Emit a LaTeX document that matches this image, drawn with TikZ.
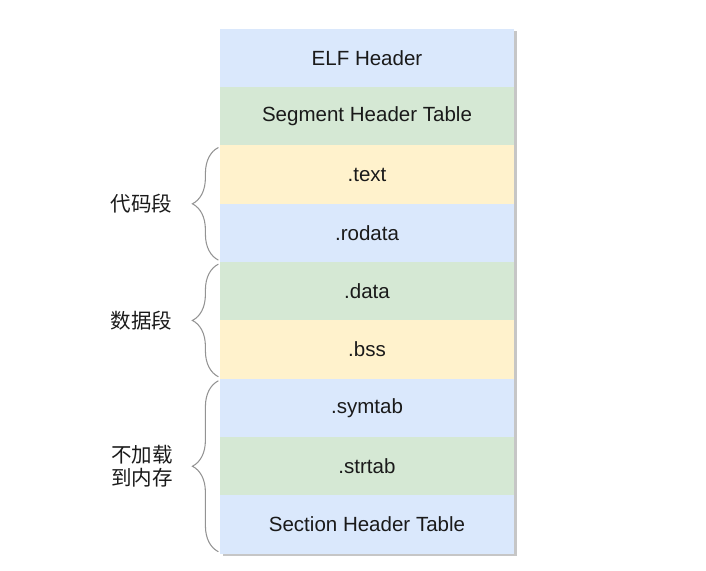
\documentclass[tikz,border=0pt]{standalone}
\usepackage{fontspec}
\setmainfont{Liberation Sans}
\newfontfamily\cjk{Noto Sans CJK SC}
\usepackage{xcolor}
\usetikzlibrary{positioning, calc, decorations.pathreplacing}

\definecolor{elfblue}{HTML}{DAE8FC}
\definecolor{elfgreen}{HTML}{D5E8D4}
\definecolor{elfyellow}{HTML}{FFF2CC}
\definecolor{elftext}{HTML}{1A1A1A}

\begin{document}
\begin{tikzpicture}[
  sec/.style={minimum width=7.35cm, minimum height=1.458cm, inner sep=0pt, outer sep=0pt, align=center, font=\fontsize{14.6}{17}\selectfont, text=elftext},
  brc/.style={draw=gray!85, line width=0.75pt, decorate, decoration={brace, amplitude=0.65cm, aspect=0.5}},
  lbl/.style={align=center, font=\cjk\fontsize{14.6}{16.8}\selectfont, text=elftext}
]
\useasboundingbox (0,-14.25) rectangle (17.65,0);
% shadow behind the table
\fill[gray!45] (9.175+3.675+0.08,-0.7-0.08) rectangle (9.175-3.675+0.08,-13.825-0.08);
\node[sec, fill=elfblue] (elf) at (9.175,-1.45) {ELF Header};
\node[sec, fill=elfgreen, below=0pt of elf] (seg) {Segment Header Table};
\node[sec, fill=elfyellow, below=0pt of seg] (text) {.text};
\node[sec, fill=elfblue, below=0pt of text] (rodata) {.rodata};
\node[sec, fill=elfgreen, below=0pt of rodata] (data) {.data};
\node[sec, fill=elfyellow, below=0pt of data] (bss) {.bss};
\node[sec, fill=elfblue, below=0pt of bss] (symtab) {.symtab};
\node[sec, fill=elfgreen, below=0pt of symtab] (strtab) {.strtab};
\node[sec, fill=elfblue, below=0pt of strtab] (shtab) {Section Header Table};

% braces
\draw[brc] ($(rodata.south west)+(-0.04,0.05)$) -- ($(text.north west)+(-0.04,-0.05)$);
\draw[brc] ($(bss.south west)+(-0.04,0.05)$) -- ($(data.north west)+(-0.04,-0.05)$);
\draw[brc] ($(shtab.south west)+(-0.04,0.05)$) -- ($(symtab.north west)+(-0.04,-0.05)$);
\coordinate (codetip) at ($(text.north west)!0.5!(rodata.south west)+(-0.69,0)$);
\coordinate (datatip) at ($(data.north west)!0.5!(bss.south west)+(-0.69,0)$);
\coordinate (notip) at ($(symtab.north west)!0.5!(shtab.south west)+(-0.69,0)$);
\node[lbl, left=0.38cm of codetip] (codelbl) {代码段};
\node[lbl, left=0.38cm of datatip] (datalbl) {数据段};
\node[lbl, left=0.36cm of notip] (nolbl) {不加载\\到内存};
\end{tikzpicture}
\end{document}
